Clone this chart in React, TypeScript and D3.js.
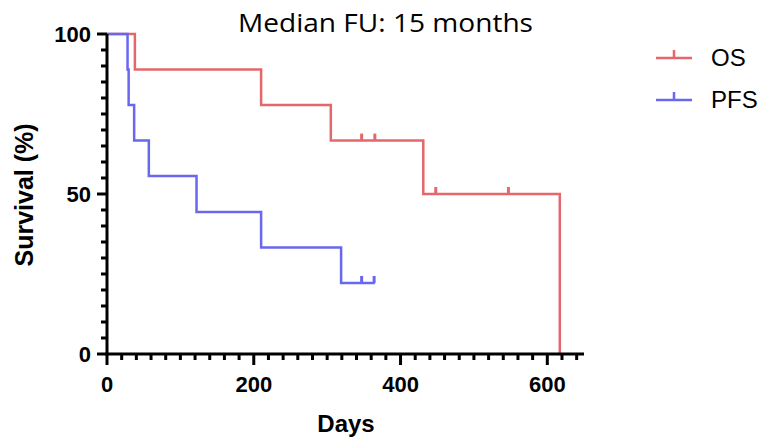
import React from "react";
import * as d3 from "d3";

// ---- data ----
const osDays = [0, 38, 210, 305, 431, 617];
const osSurv = [100, 88.9, 77.8, 66.7, 50, 0];
const osCensorDays = [347, 365, 448, 547];
const osCensorSurv = [66.7, 66.7, 50, 50];

const pfsDays = [0, 28, 29.5, 37, 57, 122, 210, 319, 365];
const pfsSurv = [100, 88.9, 77.8, 66.7, 55.6, 44.4, 33.3, 22.2, 22.2];
const pfsCensorDays = [347, 364];
const pfsCensorSurv = [22.2, 22.2];

const xMajorTicks = [0, 200, 400, 600];
const yMajorTicks = [0, 50, 100];
const seriesNames = ["OS", "PFS"];

const W = 761;
const H = 439;
const RED = "#e4676c";
const BLUE = "#6a67ef";
const FONT = "Liberation Sans, Arial, Helvetica, sans-serif";

export default function App() {
  const x = d3.scaleLinear().domain([0, 650]).range([107, 584]);
  const y = d3.scaleLinear().domain([0, 100]).range([354, 34]);

  const line = d3
    .line<[number, number]>()
    .x((d) => x(d[0]))
    .y((d) => y(d[1]))
    .curve(d3.curveStepAfter);

  const osPts = osDays.map((d, i) => [d, osSurv[i]] as [number, number]);
  const pfsPts = pfsDays.map((d, i) => [d, pfsSurv[i]] as [number, number]);

  const xMinor = d3.range(0, 641, 20).filter((v) => !xMajorTicks.includes(v));
  const yMinor = d3.range(0, 101, 5).filter((v) => !yMajorTicks.includes(v));

  const colors = [RED, BLUE];

  return (
    <svg
      width={W}
      height={H}
      style={{ position: "absolute", left: 0, top: 0, background: "#fff" }}
    >
      {/* Title */}
      <text
        x={238}
        y={32}
        fontFamily="Open Sans, Noto Sans, sans-serif"
        fontSize={25}
        textLength={295}
        lengthAdjust="spacingAndGlyphs"
        fill="#000"
      >
        Median FU: 15 months
      </text>

      {/* curves */}
      <path d={line(osPts) || ""} fill="none" stroke={RED} strokeWidth={2.5} />
      <path d={line(pfsPts) || ""} fill="none" stroke={BLUE} strokeWidth={2.5} />
      {osCensorDays.map((d, i) => (
        <line
          key={"oc" + i}
          x1={x(d)}
          x2={x(d)}
          y1={y(osCensorSurv[i])}
          y2={y(osCensorSurv[i]) - 7}
          stroke={RED}
          strokeWidth={3}
        />
      ))}
      {pfsCensorDays.map((d, i) => (
        <line
          key={"pc" + i}
          x1={x(d)}
          x2={x(d)}
          y1={y(pfsCensorSurv[i])}
          y2={y(pfsCensorSurv[i]) - 7}
          stroke={BLUE}
          strokeWidth={3}
        />
      ))}

      {/* y axis */}
      <line x1={x(0)} x2={x(0)} y1={y(100)} y2={y(0) + 1.5} stroke="#000" strokeWidth={3} />
      {yMinor.map((v) => (
        <line key={"ym" + v} x1={x(0) - 6} x2={x(0)} y1={y(v)} y2={y(v)} stroke="#000" strokeWidth={3} />
      ))}
      {yMajorTicks.map((v) => (
        <g key={"yM" + v}>
          <line x1={x(0) - 10} x2={x(0)} y1={y(v)} y2={y(v)} stroke="#000" strokeWidth={3} />
          <text
            x={x(0) - 16}
            y={y(v) + 8}
            textAnchor="end"
            fontFamily={FONT}
            fontWeight="bold"
            fontSize={22}
            fill="#000"
          >
            {v}
          </text>
        </g>
      ))}

      {/* x axis */}
      <line x1={x(0) - 1.5} x2={x(650)} y1={y(0)} y2={y(0)} stroke="#000" strokeWidth={3} />
      {xMinor.map((v) => (
        <line key={"xm" + v} x1={x(v)} x2={x(v)} y1={y(0)} y2={y(0) + 6} stroke="#000" strokeWidth={3} />
      ))}
      {xMajorTicks.map((v) => (
        <g key={"xM" + v}>
          <line x1={x(v)} x2={x(v)} y1={y(0)} y2={y(0) + 11} stroke="#000" strokeWidth={3} />
          <text
            x={x(v)}
            y={392}
            textAnchor="middle"
            fontFamily={FONT}
            fontWeight="bold"
            fontSize={22}
            fill="#000"
          >
            {v}
          </text>
        </g>
      ))}

      {/* axis titles */}
      <text
        x={346}
        y={432}
        textAnchor="middle"
        fontFamily={FONT}
        fontWeight="bold"
        fontSize={24}
        fill="#000"
      >
        Days
      </text>
      <text
        transform={`translate(33,195) rotate(-90)`}
        textAnchor="middle"
        fontFamily={FONT}
        fontWeight="bold"
        fontSize={25}
        fill="#000"
      >
        Survival (%)
      </text>

      {/* legend */}
      {seriesNames.map((name, i) => {
        const ly = 58 + i * 42;
        return (
          <g key={name}>
            <line x1={656} x2={692} y1={ly} y2={ly} stroke={colors[i]} strokeWidth={2.5} />
            <line x1={674} x2={674} y1={ly} y2={ly - 8} stroke={colors[i]} strokeWidth={2.5} />
            <text x={711} y={ly + 8} fontFamily={FONT} fontSize={24} fill="#000">
              {name}
            </text>
          </g>
        );
      })}
    </svg>
  );
}
